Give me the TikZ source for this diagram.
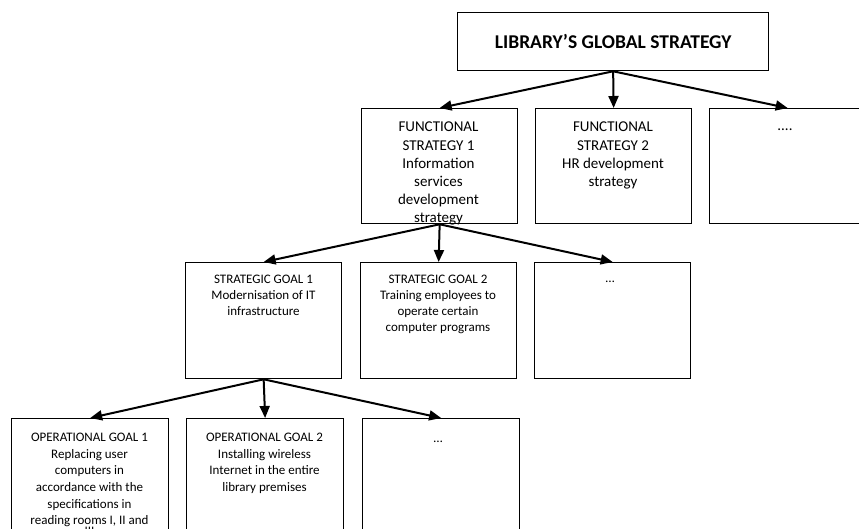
\documentclass[tikz,border=0pt]{standalone}
\usepackage{fontspec}
\setmainfont{Carlito}
\usetikzlibrary{arrows.meta}
\begin{document}
\begin{tikzpicture}[x=1pt,y=-1pt,
  box/.style={draw, line width=1.3pt, rectangle, minimum width=156pt,
    anchor=north west, inner sep=0pt},
  txt/.style={anchor=north, align=center, inner sep=0pt},
  bigtxt/.style={txt, font=\fontsize{15}{18.2}\selectfont},
  goaltxt/.style={txt, font=\fontsize{13}{15.8}\selectfont},
  optxt/.style={txt, font=\fontsize{13}{16.6}\selectfont},
  dots/.style={anchor=base, inner sep=0pt, font=\fontsize{13}{15}\selectfont},
  link/.style={line width=2pt, -{Triangle[length=12pt,width=10pt]}}]
\useasboundingbox (0,0) rectangle (859,529);
\clip (0,0) rectangle (859,529);

% global strategy
\node[draw, line width=1.3pt, minimum width=311pt, minimum height=58pt,
  anchor=north west, font=\bfseries\fontsize{19.5}{23}\selectfont]
  (top) at (457,12) {LIBRARY’S GLOBAL STRATEGY};

% functional strategies
\node[box, minimum height=115pt] (fs1) at (361,108) {};
\node[box, minimum height=115pt] (fs2) at (535,108) {};
\node[box, minimum height=115pt] (fs3) at (709,108) {};
\node[bigtxt] (fs1t) at (438.5,122)
  {FUNCTIONAL\\STRATEGY 1\\Information\\services\\development\\strategy};
\node[bigtxt] (fs2t) at (613,122)
  {FUNCTIONAL\\STRATEGY 2\\HR development\\strategy};
\node[dots, font=\fontsize{15}{18}\selectfont] (fs3t) at (785,131) {....};

% strategic goals
\node[box, minimum height=116pt] (sg1) at (185,262) {};
\node[box, minimum height=116pt] (sg2) at (360,262) {};
\node[box, minimum height=116pt] (sg3) at (534,262) {};
\node[goaltxt] (sg1t) at (263.5,275)
  {STRATEGIC GOAL 1\\Modernisation of IT\\infrastructure};
\node[goaltxt] (sg2t) at (438,275)
  {STRATEGIC GOAL 2\\Training employees to\\operate certain\\computer programs};
\node[dots] (sg3t) at (610,283) {…};

% operational goals (the row runs past the lower edge)
\node[box, minimum width=157pt, minimum height=140pt] (og1) at (11,418) {};
\node[box, minimum width=157pt, minimum height=140pt] (og2) at (186,418) {};
\node[box, minimum width=157pt, minimum height=140pt] (og3) at (362,418) {};
\node[optxt] (og1t) at (89.5,433)
  {OPERATIONAL GOAL 1\\Replacing user\\computers in\\accordance with the\\specifications in\\reading rooms I, II and\\[-6pt]III};
\node[optxt] (og2t) at (264.5,433)
  {OPERATIONAL GOAL 2\\Installing wireless\\Internet in the entire\\library premises};
\node[dots] (og3t) at (438,442) {…};

% connectors
\draw[link] (top.south) -- (fs1.north);
\draw[link] (top.south) -- (fs2.north);
\draw[link] (top.south) -- (fs3.north);
\draw[link] (fs1.south) -- (sg1.north);
\draw[link] (fs1.south) -- (sg2.north);
\draw[link] (fs1.south) -- (sg3.north);
\draw[link] (sg1.south) -- (og1.north);
\draw[link] (sg1.south) -- (og2.north);
\draw[link] (sg1.south) -- (og3.north);
\end{tikzpicture}
\end{document}
